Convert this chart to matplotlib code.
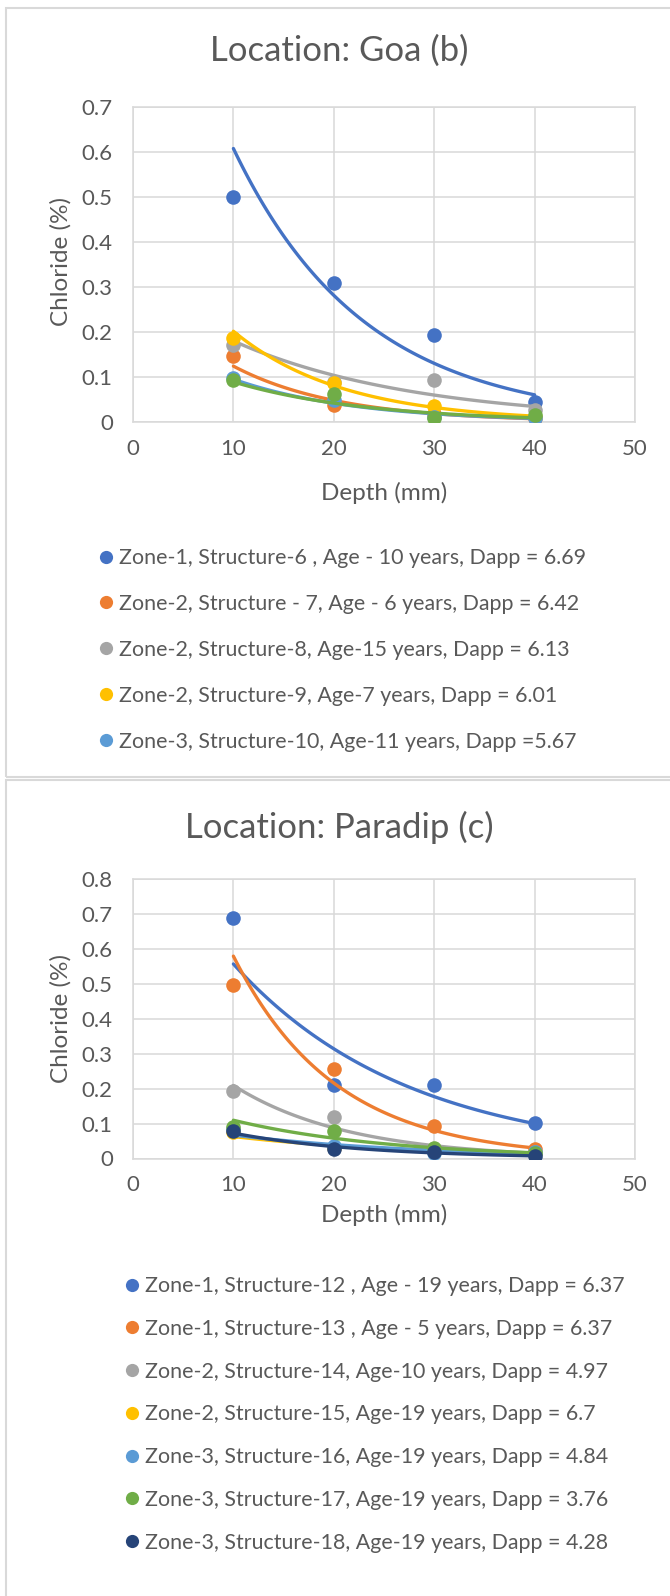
import numpy as np
import matplotlib
matplotlib.use('Agg')
from matplotlib import pyplot as plt
from matplotlib.lines import Line2D
from matplotlib.patches import Rectangle

plt.rcParams['font.family'] = ['Lato', 'DejaVu Sans']

TEXT = '#595959'
GRID = '#d9d9d9'

depth = [10, 20, 30, 40]

# Goa (b)
goa_labels = [
    'Zone-1, Structure-6 , Age - 10 years, Dapp = 6.69',
    'Zone-2, Structure - 7, Age - 6 years, Dapp = 6.42',
    'Zone-2, Structure-8, Age-15 years, Dapp = 6.13',
    'Zone-2, Structure-9, Age-7 years, Dapp = 6.01',
    'Zone-3, Structure-10, Age-11 years, Dapp =5.67',
    None,  # green series, cut off from the legend
]
goa_colors = ['#4472C4', '#ED7D31', '#A5A5A5', '#FFC000', '#5B9BD5', '#70AD47']
goa_values = [
    [0.50, 0.31, 0.193, 0.045],
    [0.147, 0.038, 0.018, 0.008],
    [0.171, 0.09, 0.093, 0.027],
    [0.187, 0.087, 0.035, 0.012],
    [0.097, 0.05, 0.012, 0.010],
    [0.093, 0.062, 0.008, 0.015],
]

# Paradip (c)
paradip_labels = [
    'Zone-1, Structure-12 , Age - 19 years, Dapp = 6.37',
    'Zone-1, Structure-13 , Age - 5 years, Dapp = 6.37',
    'Zone-2, Structure-14, Age-10 years, Dapp = 4.97',
    'Zone-2, Structure-15, Age-19 years, Dapp = 6.7',
    'Zone-3, Structure-16, Age-19 years, Dapp = 4.84',
    'Zone-3, Structure-17, Age-19 years, Dapp = 3.76',
    'Zone-3, Structure-18, Age-19 years, Dapp = 4.28',
]
paradip_colors = ['#4472C4', '#ED7D31', '#A5A5A5', '#FFC000', '#5B9BD5', '#70AD47', '#264478']
paradip_values = [
    [0.688, 0.21, 0.21, 0.102],
    [0.496, 0.255, 0.092, 0.026],
    [0.194, 0.119, 0.025, 0.018],
    [0.075, 0.03, 0.02, 0.015],
    [0.085, 0.035, 0.015, 0.02],
    [0.09, 0.079, 0.03, 0.015],
    [0.079, 0.027, 0.02, 0.007],
]


def exp_trend(x, y):
    '''Excel style exponential trendline'''
    b, a = np.polyfit(x, np.log(y), 1)
    xs = np.linspace(min(x), max(x), 100)
    return xs, np.exp(a + b * xs)


def draw_panel(ax, values, colors, ymax, title_y, title):
    for i, (vals, col) in enumerate(zip(values, colors)):
        ax.plot(depth, vals, 'o', color=col, markersize=10.5, zorder=3 + 2 * i,
                markeredgewidth=0)
        xs, ys = exp_trend(depth, vals)
        ax.plot(xs, ys, '-', color=col, linewidth=2.4, zorder=4 + 2 * i,
                solid_capstyle='round')
    ax.set_xlim(0, 50)
    ax.set_ylim(0, ymax)
    ax.set_xticks(range(0, 51, 10))
    ax.set_yticks(np.round(np.arange(0, ymax + 0.001, 0.1), 1))
    ax.set_yticklabels(['0'] + [f'{v:.1f}' for v in np.arange(0.1, ymax + 0.001, 0.1)])
    ax.grid(True, color=GRID, linewidth=1.1)
    ax.set_axisbelow(True)
    for s in ax.spines.values():
        s.set_color(GRID)
        s.set_linewidth(1.1)
    ax.tick_params(length=0, labelsize=16, labelcolor=TEXT)
    ax.tick_params(axis='y', pad=14.5)
    ax.tick_params(axis='x', pad=12)
    ax.set_xlabel('Depth (mm)', fontsize=17.5, color=TEXT)
    ax.set_ylabel('Chloride (%)', fontsize=17.5, color=TEXT)
    ax.get_figure().text(0.507, title_y, title, fontsize=25, color=TEXT,
                         ha='center', va='center')


def add_legend(ax, labels, colors, left, top, spacing):
    handles = []
    names = []
    for lab, col in zip(labels, colors):
        if lab is None:
            continue
        handles.append(Line2D([], [], marker='o', linestyle='none', color=col,
                              markersize=9.5, markeredgewidth=0))
        names.append(lab)
    fig = ax.get_figure()
    leg = ax.legend(handles, names, loc='upper left',
                    bbox_to_anchor=(left / 670, 1 - top / 1596),
                    bbox_transform=fig.transFigure, frameon=False,
                    fontsize=15.4, labelcolor=TEXT, borderpad=0, borderaxespad=0,
                    handlelength=0.8, handletextpad=0.22, labelspacing=spacing)
    return leg


fig = plt.figure(figsize=(6.7, 15.96), dpi=100)

# panel borders
fig.patches.append(Rectangle((6 / 670, 1 - 777 / 1596), 700 / 670, 769 / 1596,
                             transform=fig.transFigure, fill=False,
                             edgecolor=GRID, linewidth=1.5))
fig.patches.append(Rectangle((6 / 670, -0.05), 700 / 670, 0.05 + 1 - 780 / 1596,
                             transform=fig.transFigure, fill=False,
                             edgecolor=GRID, linewidth=1.5))

ax1 = fig.add_axes([133 / 670, 1 - 422 / 1596, 502 / 670, 315 / 1596])
draw_panel(ax1, goa_values, goa_colors, 0.7, 1 - 51 / 1596, 'Location: Goa (b)')
ax1.xaxis.set_label_coords(0.5, -(482 - 422) / 315)
ax1.yaxis.set_label_coords(-0.1215, 0.511)
add_legend(ax1, goa_labels, goa_colors, 97.5, 548, 1.21)

ax2 = fig.add_axes([133 / 670, 1 - 1158.5 / 1596, 502 / 670, 279.5 / 1596])
draw_panel(ax2, paradip_values, paradip_colors, 0.8, 1 - 827 / 1596,
           'Location: Paradip (c)')
ax2.xaxis.set_label_coords(0.5, -(1204 - 1158.5) / 279.5)
ax2.yaxis.set_label_coords(-0.1215, 0.5)
add_legend(ax2, paradip_labels, paradip_colors, 123.5, 1276, 1.065)

plt.savefig('out.png', dpi=100)
